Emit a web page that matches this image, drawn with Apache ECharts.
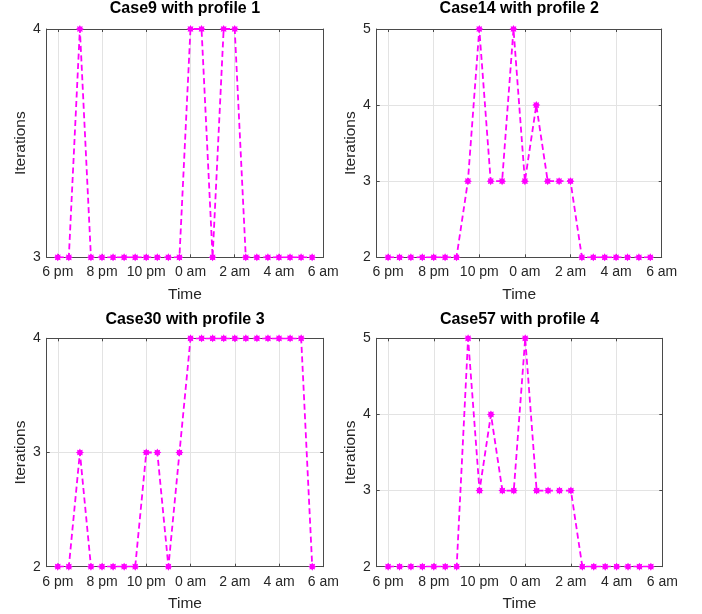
<!DOCTYPE html>
<html>
<head>
<meta charset="utf-8">
<title>Iterations per time step</title>
<script src="https://cdn.jsdelivr.net/npm/echarts@6/dist/echarts.min.js"></script>
<style>
  html, body { margin: 0; padding: 0; background: #fff; }
  #chart { width: 702px; height: 614px; }
</style>
</head>
<body>
<div id="chart"></div>
<script>
// Half-hourly time steps, hours after midnight of the first day (18 = 6 pm, 29.5 = 5:30 am)
const timeHours = [18, 18.5, 19, 19.5, 20, 20.5, 21, 21.5, 22, 22.5, 23, 23.5,
                   24, 24.5, 25, 25.5, 26, 26.5, 27, 27.5, 28, 28.5, 29, 29.5];

// Solver iterations for each case
const case9Iter  = [3, 3, 4, 3, 3, 3, 3, 3, 3, 3, 3, 3, 4, 4, 3, 4, 4, 3, 3, 3, 3, 3, 3, 3];
const case14Iter = [2, 2, 2, 2, 2, 2, 2, 3, 5, 3, 3, 5, 3, 4, 3, 3, 3, 2, 2, 2, 2, 2, 2, 2];
const case30Iter = [2, 2, 3, 2, 2, 2, 2, 2, 3, 3, 2, 3, 4, 4, 4, 4, 4, 4, 4, 4, 4, 4, 4, 2];
const case57Iter = [2, 2, 2, 2, 2, 2, 2, 5, 3, 4, 3, 3, 5, 3, 3, 3, 3, 2, 2, 2, 2, 2, 2, 2];

// Time axis ticks
const xTickValues = [18, 20, 22, 24, 26, 28, 30];
const xTickLabels = ['6 pm', '8 pm', '10 pm', '0 am', '2 am', '4 am', '6 am'];

const panelTitles = ['Case9 with profile 1', 'Case14 with profile 2', 'Case30 with profile 3', 'Case57 with profile 4'];
const panelSeries = [case9Iter, case14Iter, case30Iter, case57Iter];
const panelYRange = [[3, 4], [2, 5], [2, 4], [2, 5]];

// Plot boxes in pixels
const boxes = [
  { left: 46.7,  top: 29,    width: 276.5, height: 228.3 },
  { left: 376.7, top: 29,    width: 285,   height: 228.3 },
  { left: 46.7,  top: 338.3, width: 276.6, height: 228.4 },
  { left: 376.7, top: 338.3, width: 285.6, height: 228.4 }
];
const titleTops = [1, 1, 312, 312];

// Eight-pointed star marker
function starPath(n, rOut, rIn) {
  const pts = [];
  for (let i = 0; i < 2 * n; i++) {
    const r = i % 2 === 0 ? rOut : rIn;
    const a = Math.PI * i / n - Math.PI / 2;
    pts.push((50 + r * Math.cos(a)).toFixed(2) + ' ' + (50 + r * Math.sin(a)).toFixed(2));
  }
  return 'path://M' + pts.join(' L') + ' Z';
}
const marker = starPath(8, 50, 32);

const FONT = '"Liberation Sans", Arial, Helvetica, sans-serif';
const AXIS_COLOR = '#4a4a4a';
const TEXT_COLOR = '#262626';
const GRID_COLOR = '#e3e3e3';
const MAGENTA = '#ff00ff';

const grid = [], xAxis = [], yAxis = [], series = [], title = [];

boxes.forEach((b, i) => {
  grid.push(Object.assign({ show: false, outerBoundsMode: 'none', containLabel: false }, b));

  title.push({
    text: panelTitles[i],
    left: b.left + b.width / 2,
    top: titleTops[i],
    textAlign: 'center',
    padding: 0,
    textStyle: { fontFamily: FONT, fontSize: 16, fontWeight: 'bold', color: '#000' }
  });

  const xBase = {
    type: 'value', gridIndex: i, min: 17.5, max: 30,
    axisLine: { show: true, onZero: false, lineStyle: { color: AXIS_COLOR, width: 1 } },
    axisTick: { show: true, inside: true, length: 3, customValues: xTickValues,
                lineStyle: { color: AXIS_COLOR } }
  };
  // bottom time axis with labels and grid lines
  xAxis.push(Object.assign({}, xBase, {
    position: 'bottom',
    name: 'Time', nameLocation: 'middle', nameGap: 29,
    nameTextStyle: { fontFamily: FONT, fontSize: 15.5, color: TEXT_COLOR },
    axisLabel: {
      show: true, margin: 8, customValues: xTickValues,
      fontFamily: FONT, fontSize: 14, color: TEXT_COLOR,
      formatter: v => xTickLabels[xTickValues.indexOf(v)]
    },
    splitLine: { show: true, lineStyle: { color: GRID_COLOR, width: 1 } }
  }));
  // top edge of the box with mirrored ticks
  xAxis.push(Object.assign({}, xBase, {
    position: 'top',
    axisLabel: { show: false },
    splitLine: { show: false }
  }));

  const [ymin, ymax] = panelYRange[i];
  const yBase = {
    type: 'value', gridIndex: i, min: ymin, max: ymax, interval: 1,
    axisLine: { show: true, onZero: false, lineStyle: { color: AXIS_COLOR, width: 1 } },
    axisTick: { show: true, inside: true, length: 3, lineStyle: { color: AXIS_COLOR } }
  };
  yAxis.push(Object.assign({}, yBase, {
    position: 'left',
    name: 'Iterations', nameLocation: 'middle', nameGap: 18,
    nameTextStyle: { fontFamily: FONT, fontSize: 15.5, color: TEXT_COLOR },
    axisLabel: { show: true, margin: 6, fontFamily: FONT, fontSize: 14, color: TEXT_COLOR },
    splitLine: { show: true, lineStyle: { color: GRID_COLOR, width: 1 } }
  }));
  yAxis.push(Object.assign({}, yBase, {
    position: 'right',
    axisLabel: { show: false },
    splitLine: { show: false }
  }));

  series.push({
    type: 'line',
    xAxisIndex: 2 * i,
    yAxisIndex: 2 * i,
    data: timeHours.map((t, k) => [t, panelSeries[i][k]]),
    symbol: marker,
    symbolSize: 8,
    showAllSymbol: true,
    animation: false,
    lineStyle: { color: MAGENTA, width: 1.8, type: [6, 3.5] },
    itemStyle: { color: MAGENTA, borderWidth: 0 },
    z: 5
  });
});

const chart = echarts.init(document.getElementById('chart'), null, { renderer: 'canvas' });
chart.setOption({
  backgroundColor: '#ffffff',
  animation: false,
  title, grid, xAxis, yAxis, series
});
</script>
</body>
</html>
